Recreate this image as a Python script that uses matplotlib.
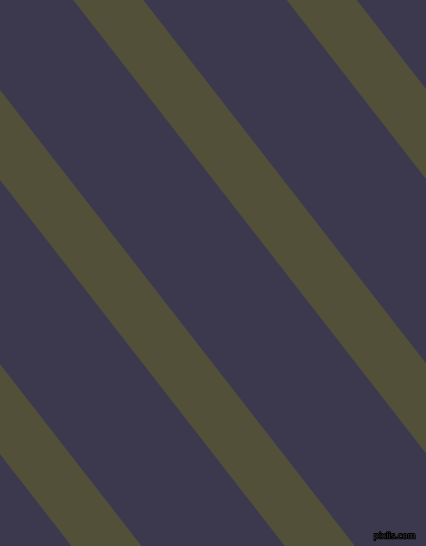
import matplotlib
matplotlib.use("Agg")
import matplotlib.pyplot as plt
import matplotlib.patheffects as pe

width_px, height_px = 426, 546
bg_color = "#3c394e"
stripe_color = "#53503a"

# left edge of each stripe where it meets the top border (px)
stripe_starts = [-353.3, -140.0, 73.3, 286.7]
stripe_width = 70.0      # horizontal width (px)
slope = 0.778            # dx per dy

fig = plt.figure(figsize=(width_px / 100, height_px / 100), dpi=100)
ax = fig.add_axes([0, 0, 1, 1])
ax.set_xlim(0, width_px)
ax.set_ylim(height_px, 0)
ax.set_facecolor(bg_color)
ax.axis("off")
fig.patch.set_facecolor(bg_color)

for x0 in stripe_starts:
    xs = [x0, x0 + stripe_width,
          x0 + stripe_width + slope * height_px, x0 + slope * height_px]
    ys = [0, 0, height_px, height_px]
    ax.fill(xs, ys, color=stripe_color, linewidth=0)

ax.text(416, 536, "pixlis.com", ha="right", va="center", fontsize=6,
        color="#333333", family="DejaVu Sans",
        path_effects=[pe.withStroke(linewidth=1.2, foreground="black")])

fig.savefig("out.png", dpi=100, facecolor=bg_color)
